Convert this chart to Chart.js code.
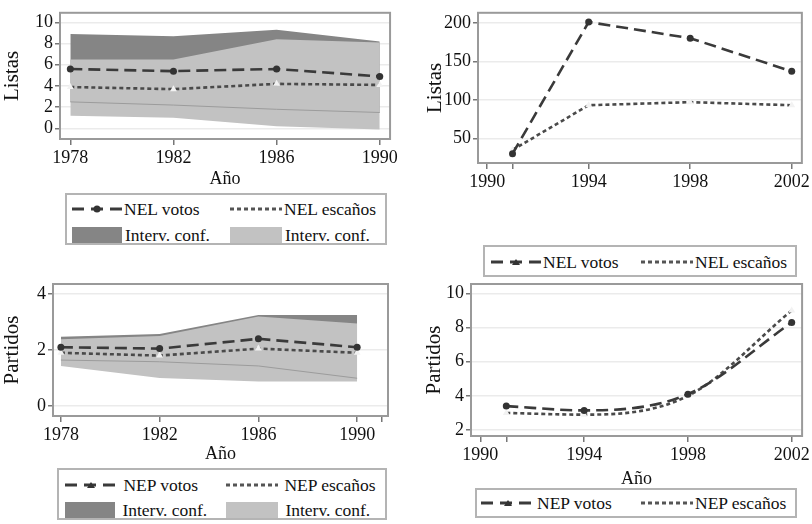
<!DOCTYPE html>
<html>
<head>
<meta charset="utf-8">
<script src="https://cdn.jsdelivr.net/npm/chart.js@4.4.1/dist/chart.umd.min.js"></script>
<style>
body{margin:0;background:#fff;font-family:"Liberation Serif",serif;}
#page{position:relative;width:812px;height:524px;overflow:hidden;background:#fff;}
canvas{position:absolute;}
.leg{position:absolute;border:2px solid #b4b4b4;box-sizing:border-box;font-size:17.5px;color:#111;background:#fff;}
.item{position:absolute;height:20px;display:flex;align-items:center;white-space:nowrap;}
.item svg{margin-right:2px;}
.sw{display:inline-block;width:50px;height:16px;margin-right:3px;}
</style>
</head>
<body>
<div id="page">
  <canvas id="c1" width="400" height="190" style="left:0;top:0"></canvas>
  <canvas id="c2" width="412" height="200" style="left:400px;top:0"></canvas>
  <canvas id="c3" width="400" height="195" style="left:0;top:270px"></canvas>
  <canvas id="c4" width="412" height="220" style="left:400px;top:270px"></canvas>

  <div class="leg" style="left:65px;top:193px;width:322px;height:52px">
    <div class="item" style="left:5px;top:4px"><svg width="50" height="12"><line x1="0" y1="6" x2="50" y2="6" stroke="#3a3a3a" stroke-width="3" stroke-dasharray="12 7"/><circle cx="25" cy="6" r="3.5" fill="#333"/></svg>NEL votos</div>
    <div class="item" style="left:163px;top:4px"><svg width="52" height="12"><line x1="0" y1="6" x2="52" y2="6" stroke="#555" stroke-width="3" stroke-dasharray="4 3"/></svg>NEL escaños</div>
    <div class="item" style="left:5px;top:30px"><span class="sw" style="background:#858585"></span>Interv. conf.</div>
    <div class="item" style="left:163px;top:30px"><span class="sw" style="background:#c2c2c2;width:52px"></span>Interv. conf.</div>
  </div>

  <div class="leg" style="left:483px;top:245px;width:314px;height:32px">
    <div class="item" style="left:6px;top:5px"><svg width="50" height="12"><line x1="0" y1="6" x2="50" y2="6" stroke="#3a3a3a" stroke-width="3" stroke-dasharray="12 7"/><path d="M21 9 L25 3 L29 9 Z" fill="#333"/></svg>NEL votos</div>
    <div class="item" style="left:156px;top:5px"><svg width="52" height="12"><line x1="0" y1="6" x2="52" y2="6" stroke="#555" stroke-width="3" stroke-dasharray="4 3"/></svg>NEL escaños</div>
  </div>

  <div class="leg" style="left:57px;top:468px;width:330px;height:52px">
    <div class="item" style="left:6px;top:5px"><svg width="52" height="12"><line x1="0" y1="6" x2="52" y2="6" stroke="#3a3a3a" stroke-width="3" stroke-dasharray="12 7"/><path d="M22 9 L26 3 L30 9 Z" fill="#333"/></svg>&nbsp;NEP votos</div>
    <div class="item" style="left:167px;top:5px"><svg width="52" height="12"><line x1="0" y1="6" x2="52" y2="6" stroke="#555" stroke-width="3" stroke-dasharray="4 3"/></svg>&nbsp;NEP escaños</div>
    <div class="item" style="left:6px;top:30px"><span class="sw" style="background:#858585"></span>&nbsp;Interv. conf.</div>
    <div class="item" style="left:167px;top:30px"><span class="sw" style="background:#c2c2c2;width:52px"></span>&nbsp;Interv. conf.</div>
  </div>

  <div class="leg" style="left:475px;top:488px;width:322px;height:30px">
    <div class="item" style="left:4px;top:3px"><svg width="54" height="12"><line x1="0" y1="6" x2="54" y2="6" stroke="#3a3a3a" stroke-width="3" stroke-dasharray="12 7"/><path d="M23 9 L27 3 L31 9 Z" fill="#333"/></svg>NEP votos</div>
    <div class="item" style="left:164px;top:3px"><svg width="52" height="12"><line x1="0" y1="6" x2="52" y2="6" stroke="#555" stroke-width="3" stroke-dasharray="4 3"/></svg>NEP escaños</div>
  </div>
</div>

<script>
// ---- data ----
var years1 = [1978, 1982, 1986, 1990];
var years2 = [1991, 1994, 1998, 2002];

// top left: Listas 1978-1990
var nelVotos1 = [5.6, 5.4, 5.6, 4.9];
var nelEscanos1 = [3.9, 3.7, 4.2, 4.1];
var nelDarkUpper = [8.9, 8.7, 9.3, 8.2];
var nelDarkLower = [2.5, 2.2, 1.8, 1.5];
var nelLightUpper = [6.5, 6.5, 8.4, 8.1];
var nelLightLower = [1.2, 1.0, 0.2, -0.1];

// top right: Listas 1991-2002
var nelVotos2 = [30, 201, 180, 137];
var nelEscanos2 = [35, 93, 97, 93];

// bottom left: Partidos 1978-1990
var nepVotos1 = [2.1, 2.05, 2.4, 2.1];
var nepEscanos1 = [1.9, 1.8, 2.05, 1.9];
var nepDarkUpper = [2.47, 2.57, 3.25, 3.25];
var nepDarkLower = [1.64, 1.58, 1.43, 0.99];
var nepLightUpper = [2.38, 2.5, 3.2, 2.95];
var nepLightLower = [1.43, 1.0, 0.87, 0.87];

// bottom right: Partidos 1991-2002
var nepVotos2 = [3.4, 3.15, 4.1, 8.3];
var nepEscanos2 = [3.0, 2.9, 4.0, 9.0];

// tick values
var xTicks1 = [1978, 1982, 1986, 1990];
var xTicks3 = [1978, 1982, 1986, 1990, 1991];
var xTicks2 = [1990, 1991, 1994, 1998, 2002];
var yTicks1 = [0, 2, 4, 6, 8, 10];
var yTicks2 = [50, 100, 150, 200];
var yTicks3 = [0, 2, 4];
var yTicks4 = [2, 4, 6, 8, 10];
var unlabeled = [1991];

var FONT = "'Liberation Serif', 'Times New Roman', serif";
var DARK = '#858585', LIGHT = '#c2c2c2';

function pts(xs, ys)
{
  var out = [];
  for (var i = 0; i < xs.length; i++) out.push({x: xs[i], y: ys[i]});
  return out;
}

function lineSets(xs, votos, escanos, votosLabel, escLabel, smooth)
{
  var mode = smooth ? 'monotone' : 'default';
  return [
    {label: votosLabel, data: pts(xs, votos), borderColor: '#3a3a3a', borderWidth: 2.6,
     borderDash: [12, 6], pointStyle: 'circle', pointRadius: 3.5, pointBackgroundColor: '#333',
     pointBorderWidth: 0, fill: false, order: 0, cubicInterpolationMode: mode},
    {label: escLabel, data: pts(xs, escanos), borderColor: '#4a4a4a', borderWidth: 2.6,
     borderDash: [4, 3], pointStyle: 'triangle', pointRadius: 4, pointBackgroundColor: '#f2f2f2',
     pointBorderWidth: 0, fill: false, order: 0, cubicInterpolationMode: mode}
  ];
}

function bandSets(xs, dUp, dLo, lUp, lLo)
{
  // datasets 2..5, after the two lines
  return [
    {label: 'Interv. conf.', data: pts(xs, dUp), borderWidth: 0, pointRadius: 0, backgroundColor: DARK, fill: 3, order: 3},
    {label: 'dlo', data: pts(xs, dLo), borderWidth: 1, borderColor: '#9c9c9c', pointRadius: 0, fill: false, order: 1},
    {label: 'Interv. conf.', data: pts(xs, lUp), borderWidth: 0, pointRadius: 0, backgroundColor: LIGHT, fill: 5, order: 2},
    {label: 'llo', data: pts(xs, lLo), borderWidth: 0, pointRadius: 0, fill: false, order: 2}
  ];
}

var frame = {
  id: 'frame',
  afterDatasetsDraw: function(chart) {
    var a = chart.chartArea, ctx = chart.ctx;
    ctx.save();
    ctx.strokeStyle = '#9a9a9a';
    ctx.lineWidth = 2;
    ctx.strokeRect(a.left, a.top, a.right - a.left, a.bottom - a.top);
    ctx.restore();
  }
};

function makeChart(id, o)
{
  return new Chart(document.getElementById(id), {
    type: 'line',
    data: {datasets: o.datasets},
    plugins: [frame],
    options: {
      responsive: false,
      animation: false,
      layout: {padding: o.pad},
      plugins: {legend: {display: false}, tooltip: {enabled: false}},
      scales: {
        x: {
          type: 'linear', min: o.xMin, max: o.xMax,
          afterBuildTicks: function(s) { s.ticks = o.xTicks.map(function(v) { return {value: v}; }); },
          afterFit: function(s) { s.height = o.xHeight; },
          ticks: {
            color: '#111', font: {family: FONT, size: 18}, padding: 2, maxRotation: 0,
            autoSkip: false,
            callback: function(v) { return unlabeled.indexOf(v) >= 0 ? '' : String(v); }
          },
          grid: {drawOnChartArea: false, tickLength: 6, tickColor: '#777', lineWidth: 1.5},
          border: {display: false},
          title: {display: !!o.xTitle, text: o.xTitle || '', color: '#111',
                  font: {family: FONT, size: 18}, padding: {top: 0, bottom: 0}}
        },
        y: {
          min: o.yMin, max: o.yMax,
          afterBuildTicks: function(s) { s.ticks = o.yTicks.map(function(v) { return {value: v}; }); },
          afterFit: function(s) { s.width = o.yWidth; },
          ticks: {color: '#111', font: {family: FONT, size: 18}, padding: 2},
          grid: {color: '#ebebeb', lineWidth: 1.5, tickLength: 5, tickColor: '#777'},
          border: {display: false},
          title: {display: true, text: o.yTitle, color: '#111',
                  font: {family: FONT, size: 21}, padding: {top: 0, bottom: 0}}
        }
      }
    }
  });
}

makeChart('c1', {
  datasets: lineSets(years1, nelVotos1, nelEscanos1, 'NEL votos', 'NEL escaños', false)
    .concat(bandSets(years1, nelDarkUpper, nelDarkLower, nelLightUpper, nelLightLower)),
  xMin: 1977.6, xMax: 1990.4, xTicks: xTicks1, xTitle: 'Año', xHeight: 51,
  yMin: -1, yMax: 10.9, yTicks: yTicks1, yTitle: 'Listas', yWidth: 60,
  pad: {left: 0, top: 8, right: 8, bottom: 0}
});

makeChart('c2', {
  datasets: lineSets(years2, nelVotos2, nelEscanos2, 'NEL votos', 'NEL escaños', false),
  xMin: 1989.64, xMax: 2002.4, xTicks: xTicks2, xTitle: '', xHeight: 37,
  yMin: 18, yMax: 213, yTicks: yTicks2, yTitle: 'Listas', yWidth: 55,
  pad: {left: 23, top: 7, right: 9, bottom: 0}
});

makeChart('c3', {
  datasets: lineSets(years1, nepVotos1, nepEscanos1, 'NEP votos', 'NEP escaños', false)
    .concat(bandSets(years1, nepDarkUpper, nepDarkLower, nepLightUpper, nepLightLower)),
  xMin: 1977.68, xMax: 1991.25, xTicks: xTicks3, xTitle: 'Año', xHeight: 49,
  yMin: -0.36, yMax: 4.36, yTicks: yTicks3, yTitle: 'Partidos', yWidth: 53,
  pad: {left: 0, top: 14, right: 12, bottom: 0}
});

makeChart('c4', {
  datasets: lineSets(years2, nepVotos2, nepEscanos2, 'NEP votos', 'NEP escaños', true),
  xMin: 1989.64, xMax: 2002.4, xTicks: xTicks2, xTitle: 'Año', xHeight: 54,
  yMin: 1.65, yMax: 10.55, yTicks: yTicks4, yTitle: 'Partidos', yWidth: 49,
  pad: {left: 22, top: 14, right: 9, bottom: 0}
});
</script>
</body>
</html>
